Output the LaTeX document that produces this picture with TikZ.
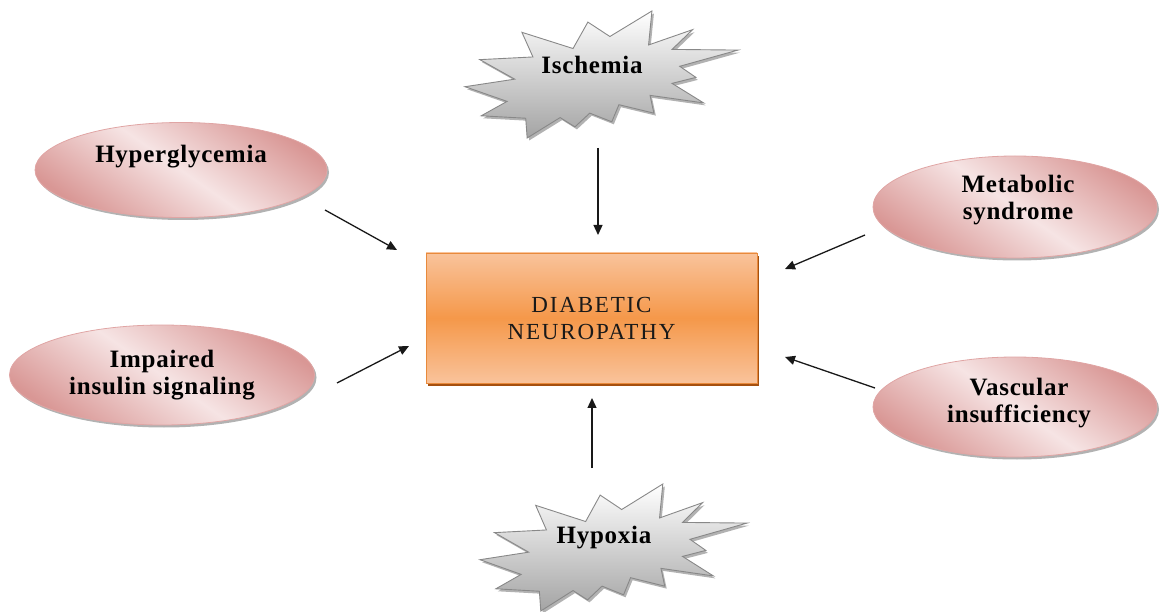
\documentclass[tikz,border=0pt]{standalone}
\usepackage{fontspec}
\setmainfont{Liberation Serif}
\newfontfamily\labfont[LetterSpace=3]{Liberation Serif}
\newfontfamily\boxfont[LetterSpace=8]{Liberation Serif}
\usetikzlibrary{shapes.geometric,arrows.meta,shadows}
\definecolor{pinkD}{HTML}{D99795}
\definecolor{pinkL}{HTML}{F6E4E4}
\definecolor{pinkB}{HTML}{E0A5A4}
\definecolor{orT}{HTML}{F9C39B}
\definecolor{orM}{HTML}{F5984A}
\definecolor{orB}{HTML}{E88A3C}
\definecolor{orS}{HTML}{A5500F}
\definecolor{grB}{HTML}{A4A4A4}
\definecolor{grD}{HTML}{888888}
\newcommand\explosionpath{(53.07,20.09) -- (45.01,8.74) -- (39.57,29.55) -- (20.85,16.79) -- (24.88,36.19) -- (5.44,38.29) -- (18.21,53.67) -- (0,59.61) -- (15.41,71.17) -- (5.94,82.52) -- (22.24,84.44) -- (22.77,100) -- (34.84,83.91) -- (40.27,91.26) -- (45.70,80.42) -- (53.77,87.24) -- (56.38,73.78) -- (69.18,80.42) -- (67.78,66.43) -- (87.40,72.37) -- (75.84,57.00) -- (84.58,52.28) -- (78.64,43.54) -- (100,30.77) -- (75.84,30.25) -- (83.36,14.69) -- (67.24,26.75) -- (68.47,0) -- cycle}
\begin{document}
\begin{tikzpicture}[x=1pt,y=-1pt,
  lab/.style={font=\labfont\bfseries\fontsize{25}{27}\selectfont, align=center, text=black, inner sep=0pt},
  pinkell/.style={ellipse, draw=pinkB, line width=0.8pt, inner sep=0pt,
    top color=pinkD, bottom color=pinkD, middle color=pinkL, shading angle=-35,
    drop shadow={shadow xshift=2pt, shadow yshift=-2.5pt, opacity=0.3, fill=black}},
  starshape/.style={draw=grD, line width=0.9pt, top color=white, bottom color=grB,
    drop shadow={shadow xshift=2pt, shadow yshift=-2.5pt, opacity=0.3, fill=black}},
  conn/.style={line width=1.3pt, draw=black!90, -{Triangle[length=10pt,width=9pt]}}]
\useasboundingbox (0,0) rectangle (1160,612);

% ellipses
\node[pinkell, minimum width=292pt, minimum height=95pt] (hyp) at (181,170) {};
\node[pinkell, minimum width=305pt, minimum height=100pt] (imp) at (162,375) {};
\node[pinkell, minimum width=284pt, minimum height=102pt] (met) at (1015,207) {};
\node[pinkell, minimum width=284pt, minimum height=100pt] (vas) at (1015,407) {};
\node[lab] (hyptxt) at (181,157) {Hyperglycemia};
\node[lab] (imptxt) at (162,375) {Impaired\\insulin signaling};
\node[lab] (mettxt) at (1018,200) {Metabolic\\syndrome};
\node[lab] (vastxt) at (1019,403) {Vascular\\insufficiency};

% stars
\begin{scope}[shift={(465,11)}, xscale=2.73, yscale=1.27]
  \path[starshape] \explosionpath;
\end{scope}
\begin{scope}[shift={(480,484)}, xscale=2.67, yscale=1.27]
  \path[starshape] \explosionpath;
\end{scope}
\node[lab] (isch) at (592,65) {Ischemia};
\node[lab] (hypo) at (604,538) {Hypoxia};

% central box
\node[rectangle, draw=orB, line width=0.8pt, minimum width=331pt, minimum height=130pt,
  top color=orT, bottom color=orT, middle color=orM,
  drop shadow={shadow xshift=1.5pt, shadow yshift=-3pt, opacity=1, fill=orS},
  font=\boxfont\fontsize{23}{27}\selectfont, align=center, text=black!90] (dn) at (591.5,318) {DIABETIC\\NEUROPATHY};

% arrow end points
\coordinate (h1) at (325,210); \coordinate (h2) at (397,250);
\coordinate (i1) at (337,383); \coordinate (i2) at (409,346);
\coordinate (m1) at (865,235); \coordinate (m2) at (785,269);
\coordinate (v1) at (875,388); \coordinate (v2) at (785,357);
\coordinate (s1) at (598,148); \coordinate (s2) at (598,235);
\coordinate (x1) at (592,468); \coordinate (x2) at (592,398);
\draw[conn] (h1) -- (h2);
\draw[conn] (i1) -- (i2);
\draw[conn] (m1) -- (m2);
\draw[conn] (v1) -- (v2);
\draw[conn] (s1) -- (s2);
\draw[conn] (x1) -- (x2);
\end{tikzpicture}
\end{document}
